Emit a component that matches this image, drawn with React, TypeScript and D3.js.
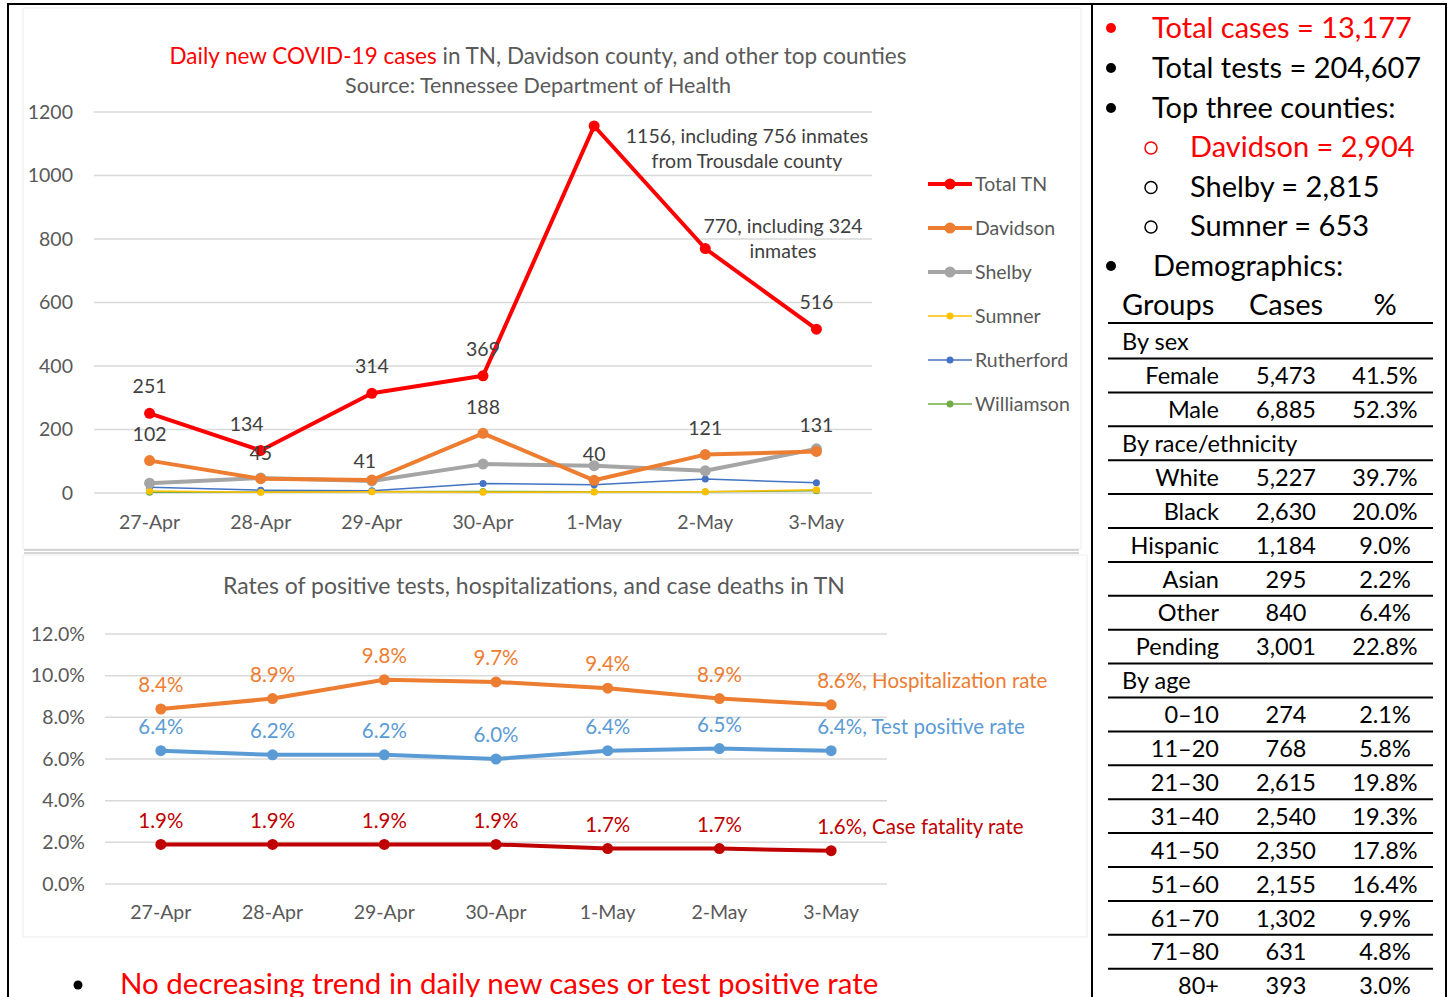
import { line, scaleLinear, scalePoint } from 'd3';

// ---- data ----
const days = ['27-Apr', '28-Apr', '29-Apr', '30-Apr', '1-May', '2-May', '3-May'];

const totalTN = [251, 134, 314, 369, 1156, 770, 516];
const davidson = [102, 45, 41, 188, 40, 121, 131];
const shelby = [31, 47, 38, 91, 86, 70, 139];
const sumner = [6, 2, 4, 2, 3, 4, 10];
const rutherford = [18, 9, 7, 30, 26, 44, 32];
const williamson = [2, 3, 5, 5, 4, 4, 7];
const caseTicks = [0, 200, 400, 600, 800, 1000, 1200];

const hospRate = [8.4, 8.9, 9.8, 9.7, 9.4, 8.9, 8.6];
const testPosRate = [6.4, 6.2, 6.2, 6.0, 6.4, 6.5, 6.4];
const fatalityRate = [1.9, 1.9, 1.9, 1.9, 1.7, 1.7, 1.6];
const rateTicks = [0, 2, 4, 6, 8, 10, 12];

const summaryLines = [
  'Total cases = 13,177',
  'Total tests = 204,607',
  'Top three counties:',
];
const topCounties = ['Davidson = 2,904', 'Shelby = 2,815', 'Sumner = 653'];

const demoRows: string[][] = [
  ['By sex'],
  ['Female', '5,473', '41.5%'],
  ['Male', '6,885', '52.3%'],
  ['By race/ethnicity'],
  ['White', '5,227', '39.7%'],
  ['Black', '2,630', '20.0%'],
  ['Hispanic', '1,184', '9.0%'],
  ['Asian', '295', '2.2%'],
  ['Other', '840', '6.4%'],
  ['Pending', '3,001', '22.8%'],
  ['By age'],
  ['0–10', '274', '2.1%'],
  ['11–20', '768', '5.8%'],
  ['21–30', '2,615', '19.8%'],
  ['31–40', '2,540', '19.3%'],
  ['41–50', '2,350', '17.8%'],
  ['51–60', '2,155', '16.4%'],
  ['61–70', '1,302', '9.9%'],
  ['71–80', '631', '4.8%'],
  ['80+', '393', '3.0%'],
];

const FONT = 'Lato, "Noto Sans", sans-serif';
const GREY = '#595959';
const RED = '#FF0000';
const AX = 19.5; // axis / label font size

type Series = { name: string; values: number[]; color: string; width: number; r: number };

const caseSeries: Series[] = [
  { name: 'Total TN', values: totalTN, color: RED, width: 4, r: 5.5 },
  { name: 'Davidson', values: davidson, color: '#ED7D31', width: 4, r: 5.5 },
  { name: 'Shelby', values: shelby, color: '#A5A5A5', width: 4, r: 5.5 },
  { name: 'Sumner', values: sumner, color: '#FFC000', width: 1.5, r: 3.5 },
  { name: 'Rutherford', values: rutherford, color: '#4472C4', width: 1.5, r: 3.5 },
  { name: 'Williamson', values: williamson, color: '#70AD47', width: 1.5, r: 3.5 },
];

// label nudges (dx, dy from point)
const totalNudge = [[0, -27], [-14, -26], [0, -27], [0, -27], [0, 0], [0, 0], [0, -27]];
const davNudge = [[0, -26], [0, -26], [-7, -19], [0, -26], [0, -26], [0, -26], [0, -26]];

export default function App() {
  // top chart scales
  const x1 = scalePoint<string>().domain(days).range([94, 872]).padding(0.5);
  const y1 = scaleLinear().domain([0, 1200]).range([493, 112]);
  // bottom chart scales
  const x2 = scalePoint<string>().domain(days).range([105, 887]).padding(0.5);
  const y2 = scaleLinear().domain([0, 12]).range([884, 634]);

  const line1 = line<number>()
    .x((_, i) => x1(days[i])!)
    .y((d) => y1(d));
  const line2 = line<number>()
    .x((_, i) => x2(days[i])!)
    .y((d) => y2(d));

  const rateSeries = [
    { values: hospRate, color: '#ED7D31', name: 'Hospitalization rate' },
    { values: testPosRate, color: '#5B9BD5', name: 'Test positive rate' },
    { values: fatalityRate, color: '#C00000', name: 'Case fatality rate' },
  ];

  const rowY = (i: number) => 342 + i * 33.9;

  return (
    <svg
      width={1448}
      height={997}
      style={{ position: 'absolute', left: 0, top: 0, background: '#fff' }}
      fontFamily={FONT}>
      {/* frames */}
      <rect x={23} y={8} width={1058} height={541} fill='none' stroke='#EDEDED' />
      <rect x={23} y={555} width={1064} height={382} fill='none' stroke='#EDEDED' />
      <line x1={24} x2={1079} y1={550} y2={550} stroke='#C8C8C8' strokeWidth={1.5} />
      <line x1={24} x2={1079} y1={553} y2={553} stroke='#C8C8C8' strokeWidth={1.5} />
      <line x1={8} x2={1446} y1={4} y2={4} stroke='#000' strokeWidth={2} />
      <line x1={8} x2={8} y1={3} y2={997} stroke='#000' strokeWidth={2} />
      <line x1={1092} x2={1092} y1={3} y2={997} stroke='#000' strokeWidth={2} />
      <line x1={1446} x2={1446} y1={3} y2={997} stroke='#000' strokeWidth={2} />

      {/* ---- top chart ---- */}
      <text x={538} y={64} textAnchor='middle' fontSize={22.5} fill={GREY}>
        <tspan fill={RED}>Daily new COVID-19 cases</tspan> in TN, Davidson county, and other top counties
      </text>
      <text x={538} y={93} textAnchor='middle' fontSize={21.5} fill={GREY}>
        Source: Tennessee Department of Health
      </text>
      {caseTicks.map((t) => (
        <g key={t}>
          <line x1={94} x2={872} y1={y1(t)} y2={y1(t)} stroke='#D9D9D9' strokeWidth={1.5} />
          <text x={73} y={y1(t)} dy='0.35em' textAnchor='end' fontSize={AX} fill={GREY}>
            {t}
          </text>
        </g>
      ))}
      {days.map((d) => (
        <text key={d} x={x1(d)} y={522} dy='0.35em' textAnchor='middle' fontSize={AX} fill={GREY}>
          {d}
        </text>
      ))}
      {[...caseSeries].reverse().map((s) => (
        <g key={s.name}>
          <path d={line1(s.values)!} fill='none' stroke={s.color} strokeWidth={s.width} strokeLinejoin='round' />
          {s.values.map((v, i) => (
            <circle key={i} cx={x1(days[i])} cy={y1(v)} r={s.r} fill={s.color} />
          ))}
        </g>
      ))}
      {totalTN.map((v, i) =>
        totalNudge[i][1] === 0 ? null : (
          <text
            key={i}
            x={x1(days[i])! + totalNudge[i][0]}
            y={y1(v) + totalNudge[i][1]}
            dy='0.35em'
            textAnchor='middle'
            fontSize={AX}
            fill='#404040'>
            {v}
          </text>
        ),
      )}
      <text x={747} y={136} dy='0.35em' textAnchor='middle' fontSize={AX} fill='#404040'>
        {totalTN[4]}, including 756 inmates
      </text>
      <text x={747} y={161} dy='0.35em' textAnchor='middle' fontSize={AX} fill='#404040'>
        from Trousdale county
      </text>
      <text x={783} y={226} dy='0.35em' textAnchor='middle' fontSize={AX} fill='#404040'>
        {totalTN[5]}, including 324
      </text>
      <text x={783} y={251} dy='0.35em' textAnchor='middle' fontSize={AX} fill='#404040'>
        inmates
      </text>
      {davidson.map((v, i) => (
        <text
          key={i}
          x={x1(days[i])! + davNudge[i][0]}
          y={y1(v) + davNudge[i][1]}
          dy='0.35em'
          textAnchor='middle'
          fontSize={AX}
          fill='#404040'>
          {v}
        </text>
      ))}
      {/* legend */}
      {caseSeries.map((s, i) => {
        const ly = 184 + i * 44;
        return (
          <g key={s.name}>
            <line x1={928} x2={972} y1={ly} y2={ly} stroke={s.color} strokeWidth={s.width} />
            <circle cx={950} cy={ly} r={s.r} fill={s.color} />
            <text x={975} y={ly} dy='0.35em' fontSize={19.5} fill={GREY}>
              {s.name}
            </text>
          </g>
        );
      })}

      {/* ---- bottom chart ---- */}
      <text x={534} y={594} textAnchor='middle' fontSize={23} fill={GREY}>
        Rates of positive tests, hospitalizations, and case deaths in TN
      </text>
      {rateTicks.map((t) => (
        <g key={t}>
          <line x1={105} x2={887} y1={y2(t)} y2={y2(t)} stroke='#D9D9D9' strokeWidth={1.5} />
          <text x={85} y={y2(t)} dy='0.35em' textAnchor='end' fontSize={AX} fill={GREY}>
            {t.toFixed(1)}%
          </text>
        </g>
      ))}
      {days.map((d) => (
        <text key={d} x={x2(d)} y={912} dy='0.35em' textAnchor='middle' fontSize={AX} fill={GREY}>
          {d}
        </text>
      ))}
      {rateSeries.map((s) => (
        <g key={s.name}>
          <path d={line2(s.values)!} fill='none' stroke={s.color} strokeWidth={4} strokeLinejoin='round' />
          {s.values.map((v, i) => (
            <circle key={i} cx={x2(days[i])} cy={y2(v)} r={5.5} fill={s.color} />
          ))}
          {s.values.map((v, i) => {
            const last = i === s.values.length - 1;
            return (
              <text
                key={'l' + i}
                x={last ? x2(days[i])! - 14 : x2(days[i])}
                y={y2(v) - 24}
                dy='0.35em'
                textAnchor={last ? 'start' : 'middle'}
                fontSize={20.5}
                fill={s.color}>
                {v.toFixed(1)}%{last ? ', ' + s.name : ''}
              </text>
            );
          })}
        </g>
      ))}

      {/* footer note */}
      <circle cx={78} cy={985} r={4.5} fill='#000' />
      <text x={120} y={994} fontSize={29.5} fill={RED}>
        No decreasing trend in daily new cases or test positive rate
      </text>

      {/* ---- right panel ---- */}
      {summaryLines.map((t, i) => (
        <g key={t}>
          <circle cx={1111} cy={28 + i * 40} r={5} fill={i === 0 ? RED : '#000'} />
          <text x={1152} y={28 + i * 40} dy='0.35em' fontSize={29} fill={i === 0 ? RED : '#000'}>
            {t}
          </text>
        </g>
      ))}
      {topCounties.map((t, i) => (
        <g key={t}>
          <circle cx={1151} cy={148 + i * 39.5} r={6} fill='none' stroke={i === 0 ? RED : '#000'} strokeWidth={1.5} />
          <text x={1190} y={147 + i * 39.5} dy='0.35em' fontSize={29} fill={i === 0 ? RED : '#000'}>
            {t}
          </text>
        </g>
      ))}
      <circle cx={1111} cy={266} r={5} fill='#000' />
      <text x={1153} y={266} dy='0.35em' fontSize={29} fill='#000'>
        Demographics:
      </text>
      <text x={1122} y={305} dy='0.35em' fontSize={29} fill='#000'>
        Groups
      </text>
      <text x={1286} y={305} dy='0.35em' textAnchor='middle' fontSize={29} fill='#000'>
        Cases
      </text>
      <text x={1385} y={305} dy='0.35em' textAnchor='middle' fontSize={29} fill='#000'>
        %
      </text>
      <line x1={1108} x2={1433} y1={323} y2={323} stroke='#000' strokeWidth={2} />
      {demoRows.map((r, i) => (
        <g key={r[0]}>
          {r.length === 1 ? (
            <text x={1122} y={rowY(i)} dy='0.35em' fontSize={23.5} fill='#000'>
              {r[0]}
            </text>
          ) : (
            <>
              <text x={1219} y={rowY(i)} dy='0.35em' textAnchor='end' fontSize={23.5} fill='#000'>
                {r[0]}
              </text>
              <text x={1286} y={rowY(i)} dy='0.35em' textAnchor='middle' fontSize={23.5} fill='#000'>
                {r[1]}
              </text>
              <text x={1385} y={rowY(i)} dy='0.35em' textAnchor='middle' fontSize={23.5} fill='#000'>
                {r[2]}
              </text>
            </>
          )}
          {i < demoRows.length - 1 && (
            <line x1={1108} x2={1433} y1={rowY(i) + 16.5} y2={rowY(i) + 16.5} stroke='#000' strokeWidth={2} />
          )}
        </g>
      ))}
    </svg>
  );
}
